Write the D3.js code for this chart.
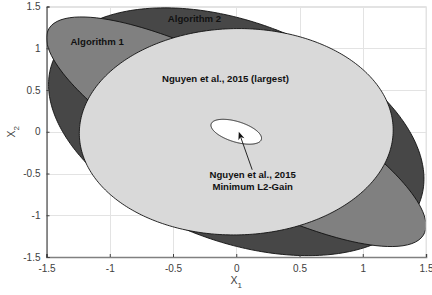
<!DOCTYPE html>
<html>
<head>
<meta charset="utf-8">
<script src="https://cdn.jsdelivr.net/npm/d3@7"></script>
<style>
    body { margin: 0; background: #ffffff; }
    svg { display: block; font-family: "Liberation Sans", Arial, sans-serif; }
</style>
</head>
<body>
<svg id="chart" width="432" height="295"></svg>
<script>
// Ellipses x' P x <= 1, P = [[a, b], [b, c]], drawn back to front
const ellipseNames = ["Algorithm 2", "Algorithm 1", "Nguyen et al., 2015 (largest)", "Nguyen et al., 2015 Minimum L2-Gain"];
const pA = [0.531, 1.33, 0.65, 34.35];
const pB = [0.202, 1.184, -0.01, 24.0];
const pC = [0.531, 1.583, 0.655, 61.8];

const xTicks = [-1.5, -1, -0.5, 0, 0.5, 1, 1.5];
const yTicks = [-1.5, -1, -0.5, 0, 0.5, 1, 1.5];

document.addEventListener("DOMContentLoaded", function () {
    const svg = d3.select("#chart");
    const left = 46.5, right = 426, top = 6.5, bottom = 257;

    const x = d3.scaleLinear().domain([-1.5, 1.5]).range([left, right]);
    const y = d3.scaleLinear().domain([-1.5, 1.5]).range([bottom, top]);

    // grid
    const grid = svg.append("g").attr("stroke", "#e3e3e3").attr("stroke-width", 1);
    grid.selectAll(".gx").data(xTicks).enter().append("line")
        .attr("x1", d => Math.round(x(d)) + 0.5).attr("x2", d => Math.round(x(d)) + 0.5)
        .attr("y1", top).attr("y2", bottom);
    grid.selectAll(".gy").data(yTicks).enter().append("line")
        .attr("y1", d => Math.round(y(d)) + 0.5).attr("y2", d => Math.round(y(d)) + 0.5)
        .attr("x1", left).attr("x2", right);

    // ellipse outline from the quadratic form, polar parametrisation
    function ellipsePoints(a, b, c) {
        const pts = [];
        for (let i = 0; i < 360; i++) {
            const t = i / 360 * 2 * Math.PI;
            const ux = Math.cos(t), uy = Math.sin(t);
            const r = 1 / Math.sqrt(a * ux * ux + 2 * b * ux * uy + c * uy * uy);
            pts.push([r * ux, r * uy]);
        }
        return pts;
    }

    const fills = ["#474747", "#808080", "#d9d9d9", "#ffffff"];
    const line = d3.line().x(d => x(d[0])).y(d => y(d[1])).curve(d3.curveLinearClosed);

    svg.append("clipPath").attr("id", "plotClip")
        .append("rect").attr("x", left).attr("y", top).attr("width", right - left).attr("height", bottom - top);

    svg.append("g").attr("clip-path", "url(#plotClip)")
        .selectAll("path")
        .data(ellipseNames.map((n, i) => ellipsePoints(pA[i], pB[i], pC[i])))
        .enter()
        .append("path")
        .attr("d", line)
        .attr("fill", (d, i) => fills[i])
        .attr("stroke", "#111")
        .attr("stroke-width", 0.9);

    // box
    svg.append("line").attr("x1", left).attr("x2", right).attr("y1", top).attr("y2", top)
        .attr("stroke", "#e3e3e3");
    svg.append("line").attr("x1", right).attr("x2", right).attr("y1", top).attr("y2", bottom)
        .attr("stroke", "#e3e3e3");

    // axes
    const xAxis = d3.axisBottom(x).tickValues(xTicks).tickSize(-3).tickPadding(8).tickFormat(d => String(d));
    const yAxis = d3.axisLeft(y).tickValues(yTicks).tickSize(-3).tickPadding(6).tickFormat(d => String(d));

    const gx = svg.append("g").attr("transform", `translate(0,${bottom})`).call(xAxis);
    gx.select(".domain").attr("stroke", "#808080").attr("stroke-width", 1.6);
    const gy = svg.append("g").attr("transform", `translate(${left},0)`).call(yAxis);
    gy.select(".domain").attr("stroke", "#262626").attr("stroke-width", 1);

    [gx, gy].forEach(g => {
        g.selectAll(".tick line").attr("stroke", "#404040");
        g.selectAll(".tick text").attr("fill", "#404040").style("font-size", "10px")
            .style("font-family", "Liberation Sans, Arial, sans-serif");
    });

    // axis labels
    const xl = svg.append("text").attr("x", x(0)).attr("y", 284)
        .attr("text-anchor", "middle").attr("fill", "#404040").style("font-size", "10.5px");
    xl.append("tspan").text("X");
    xl.append("tspan").text("1").attr("dy", 4).style("font-size", "8px");

    const yl = svg.append("text")
        .attr("transform", `translate(15,${y(0)}) rotate(-90)`)
        .attr("text-anchor", "middle").attr("fill", "#404040").style("font-size", "10.5px");
    yl.append("tspan").text("X");
    yl.append("tspan").text("2").attr("dy", 4).style("font-size", "8px");

    // annotations
    const labels = svg.append("g").attr("fill", "#111").style("font-size", "9.6px").style("font-weight", "bold")
        .attr("text-anchor", "middle");
    labels.append("text").attr("x", x(-1.10)).attr("y", y(1.04)).text("Algorithm 1");
    labels.append("text").attr("x", x(-0.33)).attr("y", y(1.32)).text("Algorithm 2");
    labels.append("text").attr("x", x(-0.085)).attr("y", y(0.59)).text("Nguyen et al., 2015 (largest)");
    labels.append("text").attr("x", x(0.13)).attr("y", y(-0.555)).text("Nguyen et al., 2015");
    labels.append("text").attr("x", x(0.13)).attr("y", y(-0.70)).text("Minimum L2-Gain");

    // arrow from label to the small ellipse
    const tail = [x(0.126), y(-0.455)];
    const tip = [x(0.02), y(0.0)];
    const ang = Math.atan2(tip[1] - tail[1], tip[0] - tail[0]);
    const hl = 8, hw = 3.2;
    const base = [tip[0] - hl * Math.cos(ang), tip[1] - hl * Math.sin(ang)];
    const back = [tip[0] - hl * 0.7 * Math.cos(ang), tip[1] - hl * 0.7 * Math.sin(ang)];
    svg.append("line")
        .attr("x1", tail[0]).attr("y1", tail[1]).attr("x2", back[0]).attr("y2", back[1])
        .attr("stroke", "#111").attr("stroke-width", 0.9);
    svg.append("path")
        .attr("d", `M${tip[0]},${tip[1]}
            L${base[0] - hw * Math.sin(ang)},${base[1] + hw * Math.cos(ang)}
            L${back[0]},${back[1]}
            L${base[0] + hw * Math.sin(ang)},${base[1] - hw * Math.cos(ang)}Z`)
        .attr("fill", "#111");
});
</script>
</body>
</html>
